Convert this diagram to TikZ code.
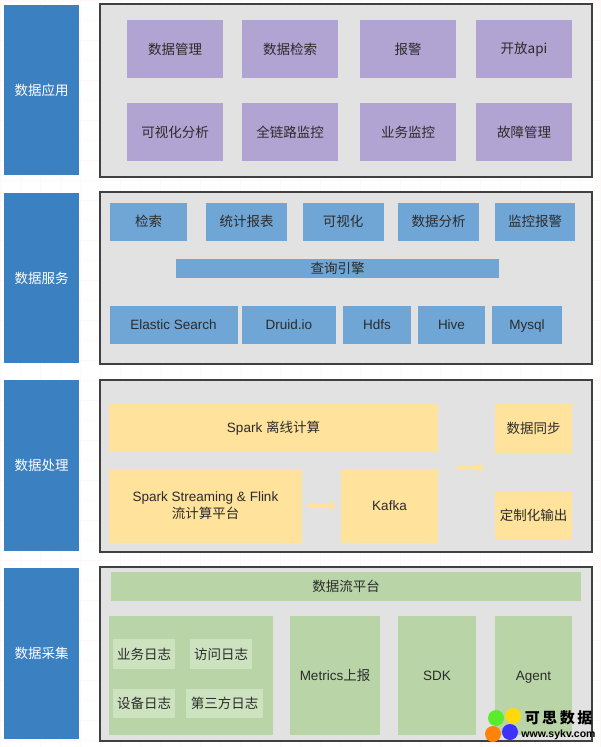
\documentclass[tikz,border=0pt]{standalone}
\usepackage{fontspec}
\usepackage{xcolor}
\usetikzlibrary{arrows.meta}
\setmainfont{Liberation Sans}
\newfontfamily\cjk{Noto Sans CJK SC}
\definecolor{layerblue}{HTML}{3B80C0}
\definecolor{panelgray}{HTML}{E2E2E2}
\definecolor{apppurple}{HTML}{B1A3D2}
\definecolor{serviceblue}{HTML}{6FA6D6}
\definecolor{procyellow}{HTML}{FFE29B}
\definecolor{collectgreen}{HTML}{B9D5A8}
\definecolor{loggreen}{HTML}{CDE3C0}
\definecolor{inkgray}{HTML}{2B2B2B}
\tikzset{
  layerbox/.style={fill=layerblue,text=white,inner sep=0pt,minimum width=75pt,minimum height=170pt,font=\fontsize{13.5}{15}\selectfont\cjk},
  panelbox/.style={draw=black!75,line width=1.2pt,fill=panelgray,inner sep=0pt,minimum width=492pt,minimum height=172pt},
  cellbox/.style={inner sep=0pt,text=inkgray,align=center,font=\fontsize{13.5}{16}\selectfont},
  appbox/.style={cellbox,fill=apppurple,minimum width=96pt,minimum height=58pt},
  servicebox/.style={cellbox,fill=serviceblue,minimum height=38pt},
  procbox/.style={cellbox,fill=procyellow},
  collectbox/.style={cellbox,fill=collectgreen},
  logbox/.style={cellbox,fill=loggreen},
  flowline/.style={draw=procyellow,line width=4pt},
  markdot/.style={circle,inner sep=0pt,minimum size=16pt}
}
\begin{document}
\begin{tikzpicture}[x=1pt,y=-1pt,>={Triangle[length=6pt,width=11pt]}]
  \useasboundingbox (0,0) rectangle (600,747);
  \fill[white] (0,0) rectangle (600,747);
  % faint page grid
  \foreach \gx in {0,20,...,600} \draw[red!3,line width=0.5pt] (\gx,0) -- (\gx,747);
  \foreach \gy in {0,20,...,740} \draw[red!3,line width=0.5pt] (0,\gy) -- (600,\gy);
  % layers
  \node (app) at (41.5,90) [layerbox] {数据应用};
  \node (service) at (41.5,278) [layerbox] {数据服务};
  \node (process) at (41.5,465.5) [layerbox,minimum height=171pt] {数据处理};
  \node (collect) at (41.5,653.5) [layerbox,minimum height=171pt] {数据采集};
  \node (apppanel) at (346,90.5) [panelbox,minimum height=173pt] {};
  \node (servicepanel) at (346,278) [panelbox] {};
  \node (processpanel) at (346,466) [panelbox] {};
  \node (collectpanel) at (346,654) [panelbox,minimum height=174pt] {};
  % data applications
  \node (manage) at (175,49) [appbox] {\cjk 数据管理};
  \node (search) at (290,49) [appbox] {\cjk 数据检索};
  \node (alarm) at (408,49) [appbox] {\cjk 报警};
  \node (openapi) at (524,49) [appbox] {\cjk 开放api};
  \node (visual) at (175,132) [appbox] {\cjk 可视化分析};
  \node (trace) at (290,132) [appbox] {\cjk 全链路监控};
  \node (bizmon) at (408,132) [appbox] {\cjk 业务监控};
  \node (fault) at (524,132) [appbox] {\cjk 故障管理};
  % data services
  \node (retrieve) at (148.5,221.5) [servicebox,minimum width=77pt] {\cjk 检索};
  \node (report) at (246.5,221.5) [servicebox,minimum width=81pt] {\cjk 统计报表};
  \node (chart) at (343,221.5) [servicebox,minimum width=81pt] {\cjk 可视化};
  \node (analysis) at (438.5,221.5) [servicebox,minimum width=81pt] {\cjk 数据分析};
  \node (monitor) at (535,221.5) [servicebox,minimum width=80pt] {\cjk 监控报警};
  \node (query) at (337.5,268.5) [servicebox,minimum width=323pt,minimum height=19pt] {\cjk 查询引擎};
  \node (elastic) at (173.5,325) [servicebox,minimum width=128pt] {Elastic Search};
  \node (druid) at (289,325) [servicebox,minimum width=94pt] {Druid.io};
  \node (hdfs) at (377,325) [servicebox,minimum width=68pt] {Hdfs};
  \node (hive) at (451.5,325) [servicebox,minimum width=67pt] {Hive};
  \node (mysql) at (527,325) [servicebox,minimum width=70pt,text depth=0pt] {Mysql};
  % data processing
  \node (spark) at (273.5,428) [procbox,minimum width=329pt,minimum height=48pt] {Spark {\cjk 离线计算}};
  \node (stream) at (205.5,506) [procbox,minimum width=193pt,minimum height=74pt] {Spark Streaming \& Flink\\[1pt]{\cjk 流计算平台}};
  \node (kafka) at (389.5,506) [procbox,minimum width=97pt,minimum height=74pt] {Kafka};
  \node (sync) at (533.5,428.5) [procbox,minimum width=77pt,minimum height=49pt] {\cjk 数据同步};
  \node (custom) at (533.5,515.5) [procbox,minimum width=77pt,minimum height=49pt] {\cjk 定制化输出};
  \coordinate (flowin) at (438,468);
  \coordinate (flowout) at (495,468);
  \draw[flowline,->,shorten <=5pt,shorten >=5pt] (stream) -- (kafka);
  \draw[flowline,->,shorten <=19pt,shorten >=11pt] (flowin) -- (flowout);
  % data collection
  \node (platform) at (346,586.5) [collectbox,minimum width=470pt,minimum height=29pt] {\cjk 数据流平台};
  \node (logs) at (191,675.5) [collectbox,minimum width=164pt,minimum height=119pt] {};
  \node (metrics) at (335,675.5) [collectbox,minimum width=90pt,minimum height=119pt] {Metrics{\cjk 上报}};
  \node (sdk) at (437,675.5) [collectbox,minimum width=78pt,minimum height=119pt] {SDK};
  \node (agent) at (533.5,675.5) [collectbox,minimum width=77pt,minimum height=119pt,text depth=0pt] {Agent};
  \node (bizlog) at (144,654) [logbox,minimum width=62pt,minimum height=30pt] {\cjk 业务日志};
  \node (visitlog) at (221,654) [logbox,minimum width=62pt,minimum height=30pt] {\cjk 访问日志};
  \node (devlog) at (144,703.5) [logbox,minimum width=62pt,minimum height=29pt] {\cjk 设备日志};
  \node (thirdlog) at (224.5,703.5) [logbox,minimum width=77pt,minimum height=29pt] {\cjk 第三方日志};
  % watermark
  \node (markgreen) at (496,718) [markdot,fill={rgb,255:red,90;green,235;blue,45}] {};
  \node (markyellow) at (513,716) [markdot,fill={rgb,255:red,255;green,218;blue,10}] {};
  \node (markorange) at (493,734) [markdot,fill={rgb,255:red,255;green,130;blue,10}] {};
  \node (markblue) at (510,732) [markdot,fill={rgb,255:red,60;green,50;blue,250}] {};
  \node (markname) at (558.5,718) [inner sep=0pt,font=\fontsize{15}{15}\selectfont\cjk\bfseries] {可\,思\,数\,据};
  \node (markurl) at (558.5,735) [inner sep=0pt,font=\fontsize{10.5}{12}\selectfont\bfseries] {www.sykv.com};
\end{tikzpicture}
\end{document}
